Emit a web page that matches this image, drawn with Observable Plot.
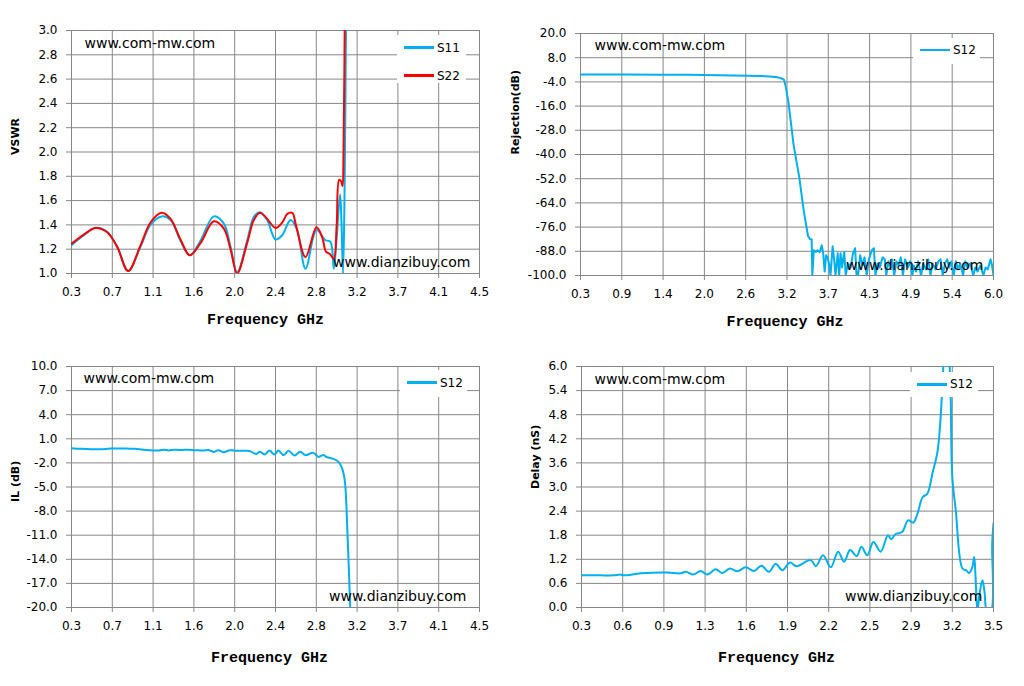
<!DOCTYPE html>
<html><head><meta charset="utf-8">
<script src="https://cdn.jsdelivr.net/npm/d3@7"></script>
<script src="https://cdn.jsdelivr.net/npm/@observablehq/plot@0.6"></script>
<style>
body{margin:0;background:#fff;}
#chart{position:relative;width:1024px;height:686px;background:#fff;overflow:hidden;}
.panel{position:absolute;width:512px;height:343px;}
.legend{position:absolute;background:#fff;font:12px "DejaVu Sans",sans-serif;color:#000;}
.sw{position:absolute;left:7px;width:30px;height:2.5px;}
.lt{position:absolute;left:40px;line-height:14px;white-space:nowrap;}
</style></head><body><div id="chart"></div><script>
// ---------- VSWR (top-left) ----------
const vswrFreqS11 = [0.3,0.427,0.547,0.667,0.77,0.883,1.01,1.113,1.227,1.32,1.422,1.518,1.628,1.765,1.868,1.937,2.005,2.108,2.177,2.239,2.314,2.40,2.469,2.555,2.623,2.709,2.822,2.915,2.966,3.0,3.03,3.065,3.08,3.095,3.11,3.128];
const vswrS11     = [1.233,1.315,1.376,1.343,1.22,1.022,1.22,1.40,1.47,1.44,1.27,1.15,1.27,1.47,1.41,1.22,1.01,1.27,1.466,1.505,1.44,1.28,1.315,1.44,1.357,1.04,1.357,1.274,1.26,1.04,1.3,1.65,1.4,1.0,1.6,3.3];
const vswrFreqS22 = [0.3,0.427,0.547,0.667,0.77,0.883,1.01,1.113,1.227,1.32,1.422,1.518,1.628,1.765,1.868,1.937,2.005,2.108,2.177,2.239,2.297,2.40,2.47,2.52,2.572,2.61,2.709,2.822,2.88,2.92,2.96,3.0,3.03,3.055,3.075,3.09,3.10,3.115];
const vswrS22     = [1.245,1.32,1.375,1.34,1.22,1.02,1.23,1.42,1.50,1.45,1.28,1.15,1.25,1.43,1.37,1.20,1.0,1.25,1.44,1.50,1.466,1.375,1.42,1.49,1.50,1.40,1.135,1.38,1.30,1.18,1.16,1.12,1.40,1.77,1.76,1.72,2.0,3.3];
const vswrXTicks  = [0.3,0.72,1.14,1.56,1.98,2.4,2.82,3.24,3.66,4.08,4.5];
const vswrXLabels = ["0.3","0.7","1.1","1.6","2.0","2.4","2.8","3.2","3.7","4.1","4.5"];
const vswrYTicks  = [1.0,1.2,1.4,1.6,1.8,2.0,2.2,2.4,2.6,2.8,3.0];
const vswrYLabels = ["1.0","1.2","1.4","1.6","1.8","2.0","2.2","2.4","2.6","2.8","3.0"];

// ---------- Rejection (top-right) ----------
const rejFreq = [0.3,0.9,1.4,1.8,2.0,2.2,2.4,2.6,2.8,2.95,3.0,3.05,3.08,3.11,3.13,3.17,3.24,3.32,3.38,3.44,3.47,3.49,
  3.50,3.52,3.55,3.57,3.60,3.63,3.65,3.67,3.69,3.71,3.73,3.75,3.78,3.80,3.82,3.85,3.87,3.89,3.91,3.94,3.96,3.99,4.03,4.06,4.09,4.11,4.13,4.16,4.19,4.22,4.25,4.28,4.32,4.35,4.37,4.40,4.43,4.47,4.50,4.52,4.55,4.58,4.60,4.63,4.66,4.69,4.72,4.75,4.78,4.82,4.85,4.88,4.90,4.93,4.96,5.00,5.03,5.07,5.10,5.13,5.16,5.20,5.24,5.27,5.30,5.33,5.36,5.39,5.42,5.45,5.48,5.51,5.54,5.58,5.61,5.64,5.68,5.72,5.75,5.78,5.82,5.86,5.89,5.92,5.96,5.98,6.0];
const rejS12  = [-0.3,-0.3,-0.4,-0.5,-0.6,-0.7,-0.8,-0.9,-1.1,-1.4,-1.6,-2.0,-2.4,-3.0,-6,-14,-35,-51.5,-67.7,-80.4,-82,-82,
  -100,-87.5,-88.3,-87.5,-88.5,-85,-89,-98,-90,-91,-94,-100,-85.5,-92,-100,-89,-100,-89,-96,-88.3,-100,-94,-96,-89,-86.5,-100,-100,-90,-95,-91,-100,-92,-87.5,-86.5,-100,-94,-96,-91,-92,-100,-93,-96,-92,-100,-93,-95,-91,-100,-92,-96,-93,-100,-95,-98,-93,-100,-94,-97,-92,-100,-94,-97,-93,-92,-100,-94,-92,-96,-93,-100,-93,-97,-94,-100,-93,-96,-94,-100,-96,-98,-95,-100,-96,-97,-92,-95,-100];
const rejXTicks  = [0.3,0.87,1.44,2.01,2.58,3.15,3.72,4.29,4.86,5.43,6.0];
const rejXLabels = ["0.3","0.9","1.4","2.0","2.6","3.2","3.7","4.3","4.9","5.4","6.0"];
const rejYTicks  = [20,8,-4,-16,-28,-40,-52,-64,-76,-88,-100];
const rejYLabels = ["20.0","8.0","-4.0","-16.0","-28.0","-40.0","-52.0","-64.0","-76.0","-88.0","-100.0"];

// ---------- Insertion loss (bottom-left) ----------
const ilFreq = [0.3,0.4,0.5,0.6,0.7,0.86,0.95,1.1,1.2,1.25,1.3,1.35,1.42,1.5,1.58,1.66,1.71,1.763,1.81,1.866,1.93,2.0,2.1,2.14,2.20,2.24,2.287,2.339,2.387,2.43,2.483,2.534,2.596,2.655,2.706,2.79,2.843,2.894,2.929,2.997,3.048,3.083,3.10,3.117,3.141,3.169,3.18];
const ilS12  = [-0.17,-0.25,-0.3,-0.3,-0.22,-0.2,-0.25,-0.42,-0.45,-0.35,-0.45,-0.35,-0.4,-0.35,-0.41,-0.45,-0.4,-0.63,-0.42,-0.68,-0.42,-0.48,-0.48,-0.55,-0.88,-0.6,-0.95,-0.47,-0.95,-0.47,-1.03,-0.5,-1.07,-0.6,-1.03,-0.75,-1.25,-1.03,-1.29,-1.5,-1.87,-2.6,-3.3,-4.6,-10.8,-20,-24];
const ilXTicks  = [0.3,0.72,1.14,1.56,1.98,2.4,2.82,3.24,3.66,4.08,4.5];
const ilXLabels = ["0.3","0.7","1.1","1.6","2.0","2.4","2.8","3.2","3.7","4.1","4.5"];
const ilYTicks  = [10,7,4,1,-2,-5,-8,-11,-14,-17,-20];
const ilYLabels = ["10.0","7.0","4.0","1.0","-2.0","-5.0","-8.0","-11.0","-14.0","-17.0","-20.0"];

// ---------- Group delay (bottom-right) ----------
const delayFreq = [0.3,0.45,0.55,0.6,0.63,0.76,0.966,1.07,1.11,1.168,1.225,1.277,1.342,1.394,1.453,1.51,1.575,1.64,1.697,1.756,1.808,1.86,1.92,1.97,2.08,2.12,2.176,2.236,2.293,2.34,2.386,2.438,2.474,2.52,2.567,2.624,2.68,2.707,2.74,2.79,2.837,2.876,2.91,2.948,2.987,3.026,3.065,3.086,3.104,3.115,3.13,3.15,3.16,3.168,3.18,3.207,3.259,3.29,3.31,3.335,3.35,3.36,3.375,3.39,3.414,3.43,3.45,3.48,3.49,3.5];
const delayS12  = [0.805,0.80,0.80,0.82,0.80,0.85,0.87,0.85,0.89,0.82,0.91,0.82,0.95,0.86,0.97,0.90,1.0,0.91,1.04,0.89,1.09,0.93,1.12,1.03,1.18,1.03,1.30,1.0,1.39,1.14,1.43,1.28,1.51,1.30,1.63,1.39,1.80,1.70,1.83,1.88,2.17,2.11,2.34,2.74,2.84,3.34,3.88,4.58,5.58,6.3,7.0,6.8,6.0,5.16,3.25,2.42,0.97,0.92,0.86,1.0,1.26,0.8,-0.1,0.3,0.68,0.4,-0.1,-0.1,1.6,2.1];
const delayXTicks  = [0.3,0.62,0.94,1.26,1.58,1.9,2.22,2.54,2.86,3.18,3.5];
const delayXLabels = ["0.3","0.6","0.9","1.3","1.6","1.9","2.2","2.5","2.9","3.2","3.5"];
const delayYTicks  = [0,0.6,1.2,1.8,2.4,3.0,3.6,4.2,4.8,5.4,6.0];
const delayYLabels = ["0.0","0.6","1.2","1.8","2.4","3.0","3.6","4.2","4.8","5.4","6.0"];

const BLUE = "#00B0F0", RED = "#FF0000", GRID = "#878787";

function panel(cfg) {
  const div = document.createElement("div");
  div.className = "panel";
  div.style.left = cfg.left + "px";
  div.style.top = cfg.top + "px";
  const fx = d => cfg.xLabels[cfg.xTicks.indexOf(d)];
  const fy = d => cfg.yLabels[cfg.yTicks.indexOf(d)];
  const g = {stroke: GRID, strokeOpacity: 1, strokeWidth: 1};
  const marks = [
    Plot.gridX(cfg.xTicks, g),
    Plot.gridY(cfg.yTicks, g),
    Plot.axisX(cfg.xTicks, {tickSize: 5, tickPadding: 9, tickFormat: fx, stroke: GRID, fill: "#000", fontSize: 12, label: null}),
    Plot.axisY(cfg.yTicks, {tickSize: 5, tickPadding: 9, tickFormat: fy, stroke: GRID, fill: "#000", fontSize: 12, label: null}),
    ...cfg.series.map(s => Plot.line(s.y, {x: s.x, y: s.y, stroke: s.color, strokeWidth: 2, curve: s.curve, clip: true})),
    Plot.text(["www.com-mw.com"], {text: d => d, frameAnchor: "top-left", lineAnchor: "middle", dx: cfg.w1[0], dy: cfg.w1[1], textAnchor: "start", fontSize: 14, fill: "#000"}),
    Plot.text(["www.dianzibuy.com"], {text: d => d, frameAnchor: "bottom-right", lineAnchor: "middle", dx: cfg.w2[0], dy: cfg.w2[1], textAnchor: "end", fontSize: 14, fill: "#000"}),
    Plot.text([cfg.xTitle], {text: d => d, frameAnchor: "bottom", lineAnchor: "middle", dx: cfg.xt[0], dy: cfg.xt[1], fontFamily: "Liberation Mono", fontWeight: "bold", fontSize: 15, fill: "#000"}),
    Plot.text([cfg.yTitle], {text: d => d, frameAnchor: "left", lineAnchor: "middle", dx: cfg.yt[0], dy: cfg.yt[1], rotate: -90, fontFamily: "DejaVu Sans", fontWeight: "bold", fontSize: 11, fill: "#000"})
  ];
  const svg = Plot.plot({
    width: 512, height: 343,
    marginTop: cfg.m[0], marginRight: cfg.m[1], marginBottom: cfg.m[2], marginLeft: cfg.m[3],
    x: {type: "linear", domain: cfg.xDomain},
    y: {type: "linear", domain: cfg.yDomain},
    style: {fontFamily: "'DejaVu Sans', sans-serif", fontSize: "12px", color: "#000", background: "transparent", overflow: "visible"},
    marks
  });
  div.appendChild(svg);
  const lg = document.createElement("div");
  lg.className = "legend";
  Object.assign(lg.style, {left: cfg.box[0] + "px", top: cfg.box[1] + "px", width: cfg.box[2] + "px", height: cfg.box[3] + "px"});
  cfg.legend.forEach(e => {
    const sw = document.createElement("div");
    sw.className = "sw";
    sw.style.top = (e.y - 1.25) + "px";
    sw.style.background = e.color;
    const t = document.createElement("span");
    t.className = "lt";
    t.style.top = (e.y - 7) + "px";
    t.textContent = e.name;
    lg.appendChild(sw); lg.appendChild(t);
  });
  div.appendChild(lg);
  document.getElementById("chart").appendChild(div);
}

panel({
  left: 0, top: 0, m: [30, 33, 70, 71],
  xDomain: [0.3, 4.5], yDomain: [1, 3],
  xTicks: vswrXTicks, xLabels: vswrXLabels, yTicks: vswrYTicks, yLabels: vswrYLabels,
  series: [
    {x: vswrFreqS11, y: vswrS11, color: BLUE, curve: "catmull-rom"},
    {x: vswrFreqS22, y: vswrS22, color: RED, curve: "catmull-rom"}
  ],
  w1: [13, 13], w2: [-9, -11], xTitle: "Frequency GHz", xt: [-10, 46], yTitle: "VSWR", yt: [-56, 3],
  box: [397, 35, 69, 48], legend: [{name: "S11", color: BLUE, y: 12.5}, {name: "S22", color: RED, y: 40.7}]
});
panel({
  left: 512, top: 0, m: [33, 31, 68, 68],
  xDomain: [0.3, 6.0], yDomain: [-100, 20],
  xTicks: rejXTicks, xLabels: rejXLabels, yTicks: rejYTicks, yLabels: rejYLabels,
  series: [{x: rejFreq, y: rejS12, color: BLUE, curve: "linear"}],
  w1: [14, 12], w2: [-10, -10], xTitle: "Frequency GHz", xt: [-2, 46], yTitle: "Rejection(dB)", yt: [-65, 0],
  box: [401, 38, 67, 26], legend: [{name: "S12", color: BLUE, y: 12}]
});
panel({
  left: 0, top: 343, m: [23, 33, 79, 71],
  xDomain: [0.3, 4.5], yDomain: [-20, 10],
  xTicks: ilXTicks, xLabels: ilXLabels, yTicks: ilYTicks, yLabels: ilYLabels,
  series: [{x: ilFreq, y: ilS12, color: BLUE, curve: "catmull-rom"}],
  w1: [12, 12], w2: [-13, -11], xTitle: "Frequency GHz", xt: [-6, 50], yTitle: "IL (dB)", yt: [-56, 15],
  box: [400, 27, 67, 27], legend: [{name: "S12", color: BLUE, y: 12.7}]
});
panel({
  left: 512, top: 343, m: [23, 31, 79, 69],
  xDomain: [0.3, 3.5], yDomain: [0, 6],
  xTicks: delayXTicks, xLabels: delayXLabels, yTicks: delayYTicks, yLabels: delayYLabels,
  series: [{x: delayFreq, y: delayS12, color: BLUE, curve: "catmull-rom"}],
  w1: [13, 13], w2: [-11, -11], xTitle: "Frequency GHz", xt: [-11, 50], yTitle: "Delay (nS)", yt: [-46, 2],
  box: [398, 29, 68, 25], legend: [{name: "S12", color: BLUE, y: 12.3}]
});
</script></body></html>
